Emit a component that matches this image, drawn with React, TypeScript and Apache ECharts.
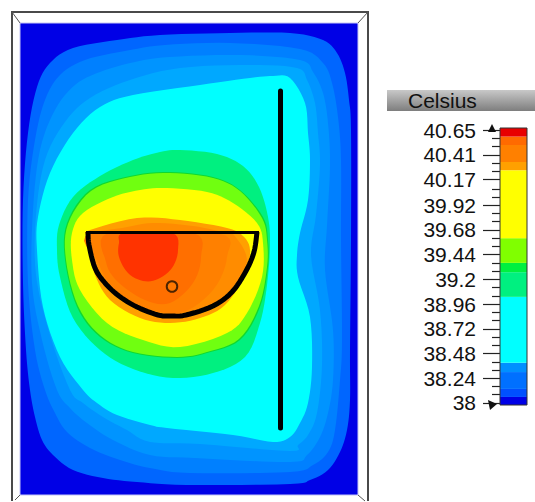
import React, { useEffect, useRef } from "react";
import * as echarts from "echarts";

type P = [number, number];

// Colour scale
const scaleTitle = "Celsius";
const majorTicks = [38, 38.24, 38.48, 38.72, 38.96, 39.2, 39.44, 39.68, 39.92, 40.17, 40.41, 40.65];
const minorTicks = [38.08, 38.16, 38.32, 38.4, 38.56, 38.64, 38.8, 38.88, 39.04, 39.12, 39.28, 39.36, 39.52, 39.6, 39.76, 39.84, 40.0, 40.08, 40.25, 40.33, 40.49, 40.57];
const bandEdges = [37.98, 38.058, 38.136, 38.3, 38.39, 39.03, 39.27, 39.36, 39.6, 40.26, 40.34, 40.505, 40.587, 40.67];
const bandColors = ["#0000e6", "#0050ff", "#0070ff", "#0090ff", "#00ffff", "#00f080", "#00f040", "#80ff00", "#ffff00", "#ffa000", "#ff8000", "#ff6a00", "#e80000"];

// Isotherm outlines, from the outside in
const field: P[] = [[20, 23], [358, 23], [358, 495], [20, 495]];
const blue1: P[] = [[160, 35], [230, 33], [290, 33], [323, 40], [337, 53], [345, 73], [349, 100], [351, 130], [351, 240], [350, 350], [350, 400], [347, 430], [340, 452], [328, 470], [310, 480], [290, 484], [187, 485], [137, 482], [103, 478], [73, 470], [53, 455], [42, 440], [35, 417], [30, 390], [26, 350], [23, 283], [23, 200], [28, 133], [37, 87], [50, 63], [73, 48], [117, 40]];
const blue2: P[] = [[165, 45], [230, 43], [300, 49], [323, 63], [332, 83], [338, 117], [341, 160], [341, 240], [342, 340], [340, 380], [335, 430], [328, 452], [313, 465], [290, 472], [190, 473], [150, 468], [120, 460], [90, 448], [67, 432], [55, 413], [45, 390], [35, 350], [28, 283], [28, 200], [35, 140], [45, 100], [60, 75], [85, 60], [125, 51]];
const blue3: P[] = [[170, 57], [240, 55], [300, 60], [313, 72], [323, 93], [328, 123], [330, 165], [327, 225], [325, 270], [333, 330], [333, 380], [328, 413], [320, 437], [307, 455], [290, 462], [195, 458], [150, 455], [113, 440], [87, 423], [70, 408], [57, 390], [42, 340], [32, 283], [33, 210], [40, 150], [55, 110], [75, 85], [100, 72], [135, 62]];
const blue4: P[] = [[180, 68], [250, 65], [297, 68], [307, 80], [315, 103], [318, 133], [320, 165], [316, 215], [311, 255], [320, 310], [322, 365], [317, 413], [308, 435], [298, 445], [290, 451], [200, 444], [150, 442], [127, 430], [103, 417], [83, 403], [70, 390], [50, 335], [36, 275], [36, 215], [45, 160], [65, 122], [90, 98], [130, 80]];
const cyan: P[] = [[200, 85], [250, 78], [273, 76], [290, 78], [305, 103], [308, 133], [310, 160], [308, 200], [300, 233], [297, 255], [298, 277], [310, 317], [312, 367], [308, 403], [300, 423], [290, 437], [273, 442], [233, 435], [167, 428], [150, 425], [117, 415], [97, 403], [83, 390], [60, 357], [43, 307], [37, 250], [38, 217], [50, 173], [73, 133], [100, 107], [133, 95]];
const green1: P[] = [[180, 150], [217, 154], [243, 166], [259, 187], [268, 217], [270, 245], [267, 285], [260, 323], [245, 357], [213, 373], [173, 378], [133, 369], [100, 350], [73, 318], [60, 277], [57, 250], [59, 225], [73, 197], [100, 176], [133, 160], [160, 152]];
const green2: P[] = [[170, 172], [213, 177], [240, 190], [263, 217], [268, 240], [268, 267], [260, 307], [240, 340], [207, 353], [177, 358], [133, 353], [100, 337], [77, 307], [65, 260], [67, 223], [90, 190], [130, 176]];
const green3: P[] = [[170, 173], [213, 178], [240, 191], [262, 218], [267, 240], [267, 267], [259, 306], [239, 339], [207, 352], [177, 357], [133, 352], [101, 336], [78, 306], [66, 260], [68, 224], [91, 191], [130, 177]];
const yellow: P[] = [[167, 188], [207, 192], [233, 203], [257, 223], [263, 243], [262, 277], [247, 313], [227, 333], [180, 347], [143, 340], [107, 323], [80, 290], [72, 260], [72, 233], [83, 213], [113, 197], [140, 190]];
const orange1: P[] = [[90, 230], [137, 218], [180, 220], [227, 228], [243, 236], [250, 250], [245, 275], [225, 305], [200, 318], [170, 323], [140, 318], [110, 300], [95, 275], [87, 245], [86, 235]];
const orange2: P[] = [[122, 228], [153, 223], [193, 226], [223, 232], [233, 234], [247, 260], [233, 293], [210, 307], [180, 316], [140, 310], [112, 292], [96, 268], [88, 240], [90, 233]];
const orange3: P[] = [[217, 233], [227, 257], [213, 290], [180, 313], [140, 306], [113, 288], [98, 262], [92, 233]];
const orange4: P[] = [[193, 233], [201, 257], [193, 283], [170, 303], [145, 300], [118, 282], [106, 262], [108, 233]];
const red: P[] = [[124, 233], [172, 233], [178, 250], [172, 268], [158, 279], [143, 281], [128, 273], [119, 257], [119, 243]];

const bands: { pts: P[]; color: string; floor?: number; sharp?: boolean }[] = [
  { pts: field, color: "#0000e6", sharp: true },
  { pts: blue1, color: "#0066ff" },
  { pts: blue2, color: "#0080ff" },
  { pts: blue3, color: "#0094ff" },
  { pts: blue4, color: "#00a8ff" },
  { pts: cyan, color: "#00ffff" },
  { pts: green1, color: "#00f080" },
  { pts: green2, color: "#10d830" },
  { pts: green3, color: "#70ff10" },
  { pts: yellow, color: "#ffff00" },
  { pts: orange1, color: "#ffa000" },
  { pts: orange2, color: "#ff8c00" },
  { pts: orange3, color: "#ff8000", floor: 233 },
  { pts: orange4, color: "#ff6f00", floor: 233 },
  { pts: red, color: "#ff3300", floor: 233 },
];

// Objects in the enclosure
const discArc: P[] = [[88, 232], [89, 245], [95, 268], [105, 283], [119, 296], [137, 307], [158, 315], [171, 316], [186, 315], [213, 306], [232, 292], [246, 271], [254, 252], [257, 232]];
const discLid: P[] = [[86, 232.5], [259, 232.5]];
const probe: P[] = [[172, 286.5]];
const wall: P[] = [[280.5, 91], [280.5, 428]];

// Catmull-Rom drawing of an outline, so the isotherms read as curves
const curve = (pts: number[][], closed: boolean) => {
  const n = pts.length;
  const at = (i: number) => (closed ? pts[(i + n) % n] : pts[Math.max(0, Math.min(n - 1, i))]);
  const out: number[][] = [];
  const last = closed ? n : n - 1;
  for (let i = 0; i < last; i++) {
    const [p0, p1, p2, p3] = [at(i - 1), at(i), at(i + 1), at(i + 2)];
    for (let s = 0; s < 6; s++) {
      const t = s / 6;
      const q = (k: number) =>
        0.5 * (2 * p1[k] + (p2[k] - p0[k]) * t + (2 * p0[k] - 5 * p1[k] + 4 * p2[k] - p3[k]) * t * t + (3 * p1[k] - p0[k] - 3 * p2[k] + p3[k]) * t * t * t);
      out.push([q(0), q(1)]);
    }
  }
  if (!closed) out.push(pts[n - 1]);
  return out;
};

const polySeries = (b: { pts: P[]; color: string; floor?: number; sharp?: boolean }, z: number) => ({
  type: "custom",
  xAxisIndex: 0,
  yAxisIndex: 0,
  silent: true,
  z,
  data: [[0, 0]],
  renderItem: (_: any, api: any) => {
    const raw = b.pts.map((p) => api.coord(p));
    let points = b.sharp ? raw : curve(raw, true);
    if (b.floor !== undefined) {
      const top = api.coord([0, b.floor])[1];
      points = points.map((p) => [p[0], Math.max(p[1], top)]);
    }
    return {
      type: "polygon",
      shape: { points },
      style: b.sharp ? { fill: b.color, stroke: "#c4c4f4", lineWidth: 1 } : { fill: b.color },
    };
  },
});

const strokeSeries = (pts: P[], width: number) => ({
  type: "custom",
  xAxisIndex: 0,
  yAxisIndex: 0,
  silent: true,
  z: 3,
  data: [[0, 0]],
  renderItem: (_: any, api: any) => ({
    type: "polyline",
    shape: { points: curve(pts.map((p) => api.coord(p)), false) },
    style: { fill: "none", stroke: "#000", lineWidth: width, lineCap: "butt", lineJoin: "round" },
  }),
});

export default function App() {
  const ref = useRef<HTMLDivElement>(null);
  useEffect(() => {
    document.body.style.margin = "0";
    const chart = echarts.init(ref.current!, undefined, { renderer: "svg" });
    const series: any[] = bands.map((b, i) => polySeries(b, 2 + i * 0.01));
    series.push(strokeSeries(discArc, 5));
    series.push(strokeSeries(discLid, 3));
    series.push({
      type: "line",
      xAxisIndex: 0,
      yAxisIndex: 0,
      data: wall,
      symbol: "none",
      z: 3,
      silent: true,
      lineStyle: { color: "#000", width: 5, cap: "round" },
    });
    series.push({
      type: "scatter",
      xAxisIndex: 0,
      yAxisIndex: 0,
      data: probe,
      symbol: "circle",
      symbolSize: 10.5,
      z: 3,
      silent: true,
      itemStyle: { color: "#ff7a00", borderColor: "#201000", borderWidth: 2 },
    });
    series.push({
      type: "custom",
      xAxisIndex: 1,
      yAxisIndex: 1,
      silent: true,
      encode: { y: [1, 2] },
      data: bandColors.map((c, i) => ({ value: [0, bandEdges[i], bandEdges[i + 1]], itemStyle: { color: c } })),
      renderItem: (p: any, api: any) => {
        const a = api.coord([0, api.value(1)]);
        const b = api.coord([0, api.value(2)]);
        return {
          type: "rect",
          shape: { x: p.coordSys.x, y: b[1], width: p.coordSys.width, height: a[1] - b[1] },
          style: { fill: bandColors[p.dataIndex] },
        };
      },
    });
    chart.setOption({
      animation: false,
      backgroundColor: "#fff",
      grid: [
        { left: 0, top: 0, width: 535, height: 502 },
        { left: 500, top: 128, width: 27, height: 277 },
      ],
      xAxis: [
        { type: "value", gridIndex: 0, min: 0, max: 535, show: false },
        { type: "value", gridIndex: 1, min: 0, max: 1, show: false },
      ],
      yAxis: [
        { type: "value", gridIndex: 0, min: 0, max: 502, inverse: true, show: false },
        {
          type: "value",
          gridIndex: 1,
          min: 37.98,
          max: 40.67,
          splitLine: { show: false },
          axisLine: { show: false },
          axisTick: { show: true, customValues: majorTicks, length: 17, lineStyle: { color: "#222", width: 1.2 } },
          axisLabel: {
            show: true,
            customValues: majorTicks,
            margin: 24,
            fontFamily: "Liberation Sans",
            fontSize: 21,
            color: "#111",
          },
        },
        {
          type: "value",
          gridIndex: 1,
          position: "left",
          min: 37.98,
          max: 40.67,
          splitLine: { show: false },
          axisLine: { show: false },
          axisLabel: { show: false },
          axisTick: { show: true, customValues: minorTicks, length: 8, lineStyle: { color: "#222", width: 1.2 } },
        },
      ],
      series,
      graphic: [
        // enclosure frame, open at the foot of the picture
        { type: "polyline", z: 1, shape: { points: [[12, 501], [12, 12], [368, 12], [368, 501]] }, style: { fill: "none", stroke: "#4a4a4a", lineWidth: 2 } },
        { type: "line", z: 10, shape: { x1: 12, y1: 12, x2: 20, y2: 23 }, style: { stroke: "#555", lineWidth: 1 } },
        { type: "line", z: 10, shape: { x1: 368, y1: 12, x2: 358, y2: 23 }, style: { stroke: "#555", lineWidth: 1 } },
        { type: "line", z: 10, shape: { x1: 15, y1: 500, x2: 20, y2: 495 }, style: { stroke: "#555", lineWidth: 1 } },
        { type: "line", z: 10, shape: { x1: 365, y1: 501, x2: 358, y2: 495 }, style: { stroke: "#555", lineWidth: 1 } },
        // scale title bar
        {
          type: "rect",
          z: 5,
          shape: { x: 387, y: 90, width: 148, height: 21 },
          style: {
            fill: new echarts.graphic.LinearGradient(0, 0, 0, 1, [
              { offset: 0, color: "#c8c8c8" },
              { offset: 1, color: "#7e7e7e" },
            ]),
          },
        },
        { type: "text", z: 6, x: 408, y: 89.5, style: { text: scaleTitle, fontFamily: "Liberation Sans", fontSize: 21, fill: "#111" } },
        // scale bar outline and end markers
        { type: "rect", z: 6, shape: { x: 500, y: 128, width: 27, height: 277 }, style: { fill: "none", stroke: "#333", lineWidth: 1 } },
        { type: "polygon", z: 6, shape: { points: [[488, 132], [496, 132], [492, 124]] }, style: { fill: "#111" } },
        { type: "polygon", z: 6, shape: { points: [[488, 400], [497, 404], [490, 410]] }, style: { fill: "#111" } },
      ],
    });
    return () => chart.dispose();
  }, []);
  return <div ref={ref} style={{ position: "fixed", left: 0, top: 0, width: 535, height: 502 }} />;
}
